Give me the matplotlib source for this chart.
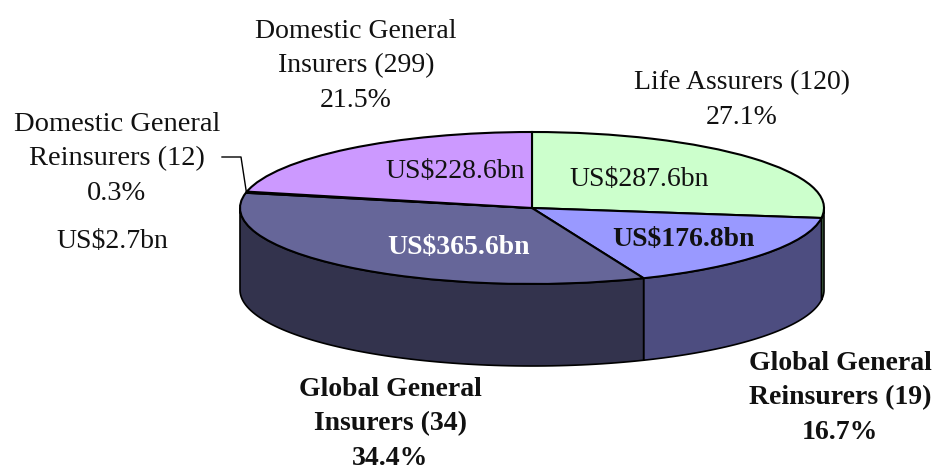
import numpy as np
import matplotlib
matplotlib.use("Agg")
import matplotlib.pyplot as plt

categories = ["Life Assurers", "Global General Reinsurers", "Global General Insurers",
              "Domestic General Reinsurers", "Domestic General Insurers"]
values_bn = [287.6, 176.8, 365.6, 2.7, 228.6]
top_colors = ["#CCFFCC", "#9999FF", "#666699", "#FFFFCC", "#CC99FF"]
side_colors = ["#669966", "#4D4D80", "#33334D", "#80806B", "#664D80"]

W, H = 935, 470
CX, CY, RX, RY, DEPTH = 532, 208, 292, 76, 82

plt.rcParams["font.family"] = ["Liberation Serif", "DejaVu Serif"]
fig = plt.figure(figsize=(W / 100, H / 100), dpi=100, facecolor="white")
ax = fig.add_axes([0, 0, 1, 1])

# walls of the extruded pie, from the same shares as the wedges
fractions = np.array(values_bn) / sum(values_bn)
edges = 90 - 360 * np.concatenate([[0], np.cumsum(fractions)])
d = DEPTH / RY
for a0, a1, c in zip(edges[:-1], edges[1:], side_colors):
    lo, hi = max(a1, -180), min(a0, 0)
    if lo >= hi:
        continue
    t = np.radians(np.linspace(hi, lo, 80))
    x, y = np.cos(t), np.sin(t)
    ax.fill(np.r_[x, x[::-1]], np.r_[y, y[::-1] - d], facecolor=c,
            edgecolor="black", linewidth=1.2, joinstyle="round", zorder=1)

wedges, _ = ax.pie(values_bn, colors=top_colors, startangle=90, counterclock=False,
                   radius=1, wedgeprops=dict(edgecolor="black", linewidth=1.5, zorder=2))
ax.set_aspect("auto")
ax.set_xlim(-CX / RX, (W - CX) / RX)
ax.set_ylim((CY - H) / RY, CY / RY)
ax.axis("off")

def label(px, py, s, **kw):
    kw.setdefault("color", "#111111")
    kw.setdefault("fontsize", 20)
    fig.text(px / W, 1 - py / H, s, ha="center", va="center", multialignment="center",
             linespacing=1.52, zorder=5, **kw)

label(356, 66, "Domestic General\nInsurers (299)\n21.5%")
label(742, 100, "Life Assurers (120)\n27.1%")
label(117, 159, "Domestic General\nReinsurers (12)\n0.3%", fontsize=20.5)
label(112, 241, "US$2.7bn")
label(455, 171, "US$228.6bn")
label(639, 179, "US$287.6bn")
label(683, 240, "US$176.8bn", fontweight="bold")
label(458, 247, "US$365.6bn", fontweight="bold", color="white")
label(390, 424, "Global General\nInsurers (34)\n34.4%", fontweight="bold")
label(840, 398, "Global General\nReinsurers (19)\n16.7%", fontweight="bold")

# leader line to the thin wedge
ang = np.radians((edges[3] + edges[4]) / 2)
lx, ly = np.cos(ang), np.sin(ang)
ax.plot([(222 - CX) / RX, (241 - CX) / RX, lx], [(CY - 157) / RY, (CY - 157) / RY, ly],
        color="black", linewidth=1, zorder=3)

fig.savefig("out.png", dpi=100)
